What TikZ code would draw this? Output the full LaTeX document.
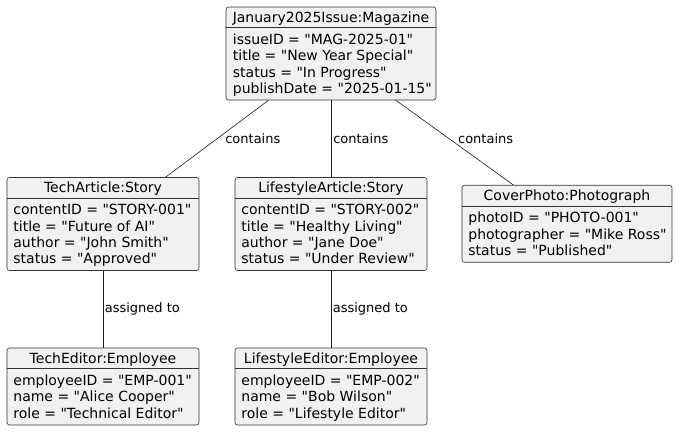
\documentclass[tikz,border=0pt]{standalone}
\usepackage{fontspec}
\setmainfont{DejaVu Sans}[Ligatures=TeXOff]
\usetikzlibrary{positioning}

\tikzset{
  objbox/.style={draw=black!80, fill=gray!11, rounded corners=2.5pt, line width=0.6pt, inner sep=0pt},
  objname/.style={font=\fontsize{14}{14}\selectfont, inner sep=0pt, anchor=base},
  objattr/.style={font=\fontsize{14}{16.4}\selectfont, align=left, inner sep=0pt, anchor=north west},
  objline/.style={draw=black!80, line width=0.6pt},
  link/.style={draw=black!90, line width=0.6pt},
  linklabel/.style={font=\fontsize{13}{13}\selectfont, inner sep=0pt, anchor=west}
}

\begin{document}
\begin{tikzpicture}[x=1pt, y=-1pt]
    \useasboundingbox (0,0) rectangle (679,431);

    \node[objbox, minimum width=210pt, minimum height=93pt] (issue) at (331,53.5) {};
    \node[objname] (issue-name) at ([yshift=-15.3pt]issue.north) {January2025Issue:Magazine};
    \draw[objline] ([yshift=-21pt]issue.north west) -- ([yshift=-21pt]issue.north east);
    \node[objattr] (issue-attr) at ([xshift=7pt, yshift=-27pt]issue.north west)
        {issueID = "MAG-2025-01"\\title = "New Year Special"\\status = "In Progress"\\publishDate = "2025-01-15"};

    \node[objbox, minimum width=192pt, minimum height=93pt] (techArticle) at (103,224) {};
    \node[objname] (techArticle-name) at ([yshift=-15.3pt]techArticle.north) {TechArticle:Story};
    \draw[objline] ([yshift=-21pt]techArticle.north west) -- ([yshift=-21pt]techArticle.north east);
    \node[objattr] (techArticle-attr) at ([xshift=6.5pt, yshift=-27pt]techArticle.north west)
        {contentID = "STORY-001"\\title = "Future of AI"\\author = "John Smith"\\status = "Approved"};

    \node[objbox, minimum width=192pt, minimum height=93pt] (lifestyleArticle) at (331,224) {};
    \node[objname] (lifestyleArticle-name) at ([yshift=-15.3pt]lifestyleArticle.north) {LifestyleArticle:Story};
    \draw[objline] ([yshift=-21pt]lifestyleArticle.north west) -- ([yshift=-21pt]lifestyleArticle.north east);
    \node[objattr] (lifestyleArticle-attr) at ([xshift=6.5pt, yshift=-27pt]lifestyleArticle.north west)
        {contentID = "STORY-002"\\title = "Healthy Living"\\author = "Jane Doe"\\status = "Under Review"};

    \node[objbox, minimum width=210pt, minimum height=77pt] (coverPhoto) at (567,223.75) {};
    \node[objname] (coverPhoto-name) at ([yshift=-15.3pt]coverPhoto.north) {CoverPhoto:Photograph};
    \draw[objline] ([yshift=-21pt]coverPhoto.north west) -- ([yshift=-21pt]coverPhoto.north east);
    \node[objattr] (coverPhoto-attr) at ([xshift=6.5pt, yshift=-27pt]coverPhoto.north west)
        {photoID = "PHOTO-001"\\photographer = "Mike Ross"\\status = "Published"};

    \node[objbox, minimum width=192pt, minimum height=77pt] (techEditor) at (103,386.5) {};
    \node[objname] (techEditor-name) at ([yshift=-15.3pt]techEditor.north) {TechEditor:Employee};
    \draw[objline] ([yshift=-21pt]techEditor.north west) -- ([yshift=-21pt]techEditor.north east);
    \node[objattr] (techEditor-attr) at ([xshift=6.5pt, yshift=-27pt]techEditor.north west)
        {employeeID = "EMP-001"\\name = "Alice Cooper"\\role = "Technical Editor"};

    \node[objbox, minimum width=192pt, minimum height=77pt] (lifestyleEditor) at (331,386.5) {};
    \node[objname] (lifestyleEditor-name) at ([yshift=-15.3pt]lifestyleEditor.north) {LifestyleEditor:Employee};
    \draw[objline] ([yshift=-21pt]lifestyleEditor.north west) -- ([yshift=-21pt]lifestyleEditor.north east);
    \node[objattr] (lifestyleEditor-attr) at ([xshift=6.5pt, yshift=-27pt]lifestyleEditor.north west)
        {employeeID = "EMP-002"\\name = "Bob Wilson"\\role = "Lifestyle Editor"};

    \draw[link] (issue) -- node[linklabel, pos=0.5, xshift=8pt] (contains-tech) {contains} (techArticle);
    \draw[link] (issue) -- node[linklabel, pos=0.5, xshift=2pt] (contains-lifestyle) {contains} (lifestyleArticle);
    \draw[link] (issue) -- node[linklabel, pos=0.5, xshift=3.2pt, yshift=3.75pt] (contains-cover) {contains} (coverPhoto);
    \draw[link] (techArticle) -- node[linklabel, pos=0.5, xshift=1.5pt] (assigned-tech) {assigned to} (techEditor);
    \draw[link] (lifestyleArticle) -- node[linklabel, pos=0.5, xshift=1.5pt] (assigned-lifestyle) {assigned to} (lifestyleEditor);
\end{tikzpicture}
\end{document}
